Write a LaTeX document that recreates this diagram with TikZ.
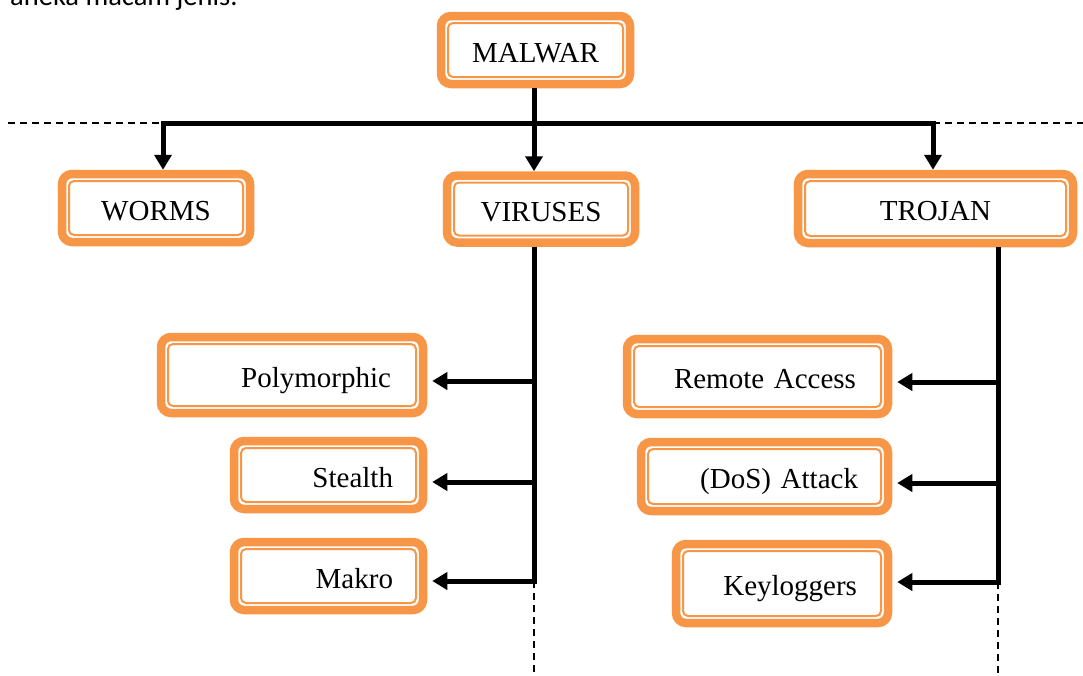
\documentclass[tikz,border=0pt]{standalone}
\usepackage{fontspec}
\setmainfont{Liberation Serif}
\newfontfamily\topfont{Carlito}
\usetikzlibrary{arrows.meta}
\definecolor{boxorange}{HTML}{F79646}
\begin{document}
\begin{tikzpicture}[x=1pt,y=-1pt,
  box/.style={draw=boxorange, line width=8.5pt, rounded corners=10pt, fill=white,
    inner ysep=0pt, font=\fontsize{29}{31}\selectfont, text height=26pt, text depth=2pt,
    path picture={\draw[boxorange, line width=2pt, rounded corners=5pt]
      ([shift={(7pt,-7pt)}]path picture bounding box.north west) rectangle
      ([shift={(-7pt,7pt)}]path picture bounding box.south east);}},
  rbox/.style={box, align=right},
  conn/.style={draw=black, line width=5pt},
  tip/.style={-{Triangle[width=17pt,length=15pt]}},
  arr/.style={conn, tip, shorten >=5pt},
  dsh/.style={draw=black, line width=1.8pt, dash pattern=on 7pt off 5pt}
]
\fill[white] (0,0) rectangle (1083,675);
\useasboundingbox (0,0) rectangle (1083,675);

\node[anchor=base west, inner sep=0pt, font=\topfont\fontsize{28.5}{30}\selectfont] (intro) at (10,5) {aneka macam jenis.};

\node[box, minimum width=189pt, minimum height=68pt] (malwar) at (535.5,50) {MALWAR};
\node[box, minimum width=188pt, minimum height=68pt] (worms) at (156,208) {WORMS};
\node[box, minimum width=188pt, minimum height=67pt] (viruses) at (541,209) {VIRUSES};
\node[box, minimum width=275pt, minimum height=69pt] (trojan) at (935.5,208.5) {TROJAN};

\node[rbox, minimum width=262pt, minimum height=76pt, inner xsep=32pt, text width=198pt] (poly) at (292,375) {Polymorphic};
\node[rbox, minimum width=189pt, minimum height=68pt, inner xsep=30pt, text width=129pt] (stealth) at (328.5,475) {Stealth};
\node[rbox, minimum width=189pt, minimum height=68pt, inner xsep=30pt, text width=129pt] (makro) at (328.5,576) {Makro};

\node[rbox, minimum width=261pt, minimum height=75pt, inner xsep=32pt, text width=197pt] (remote) at (757.5,376.5) {Remote Access};
\node[rbox, minimum width=247pt, minimum height=69pt, inner xsep=30pt, text width=187pt] (dos) at (764.5,476.5) {(DoS) Attack};
\node[rbox, minimum width=212pt, minimum height=79pt, inner xsep=31pt, text width=150pt] (keylog) at (782,583.5) {Keyloggers};

% bus
\coordinate (bw) at (163,123);
\coordinate (bv) at (534,123);
\coordinate (bt) at (933,123);
\coordinate (dl) at (8,123);
\coordinate (dr) at (1083,123);
\draw[dsh] (dl) -- (bw);
\draw[dsh] (bt) -- (dr);
\draw[conn, {Triangle[width=17pt,length=15pt]}-{Triangle[width=17pt,length=15pt]}, line join=miter]
  (worms.north -| bw) -- (bw) -- (bt) -- (trojan.north -| bt);
\draw[conn, tip] (malwar.south -| bv) -- (viruses.north -| bv);

% viruses trunk
\coordinate (vp) at (534,381);
\coordinate (vs) at (534,482);
\coordinate (vt) at (534,581);
\coordinate (vb) at (534,675);
\draw[arr, line join=miter] (viruses.south -| vt) -- (vt) -- (vt -| makro.east);
\draw[arr] (vp) -- (vp -| poly.east);
\draw[arr] (vs) -- (vs -| stealth.east);
\draw[dsh] (vt) -- (vb);

% trojan trunk
\coordinate (tp) at (998,382);
\coordinate (ts) at (998,483);
\coordinate (tk) at (998,582);
\coordinate (tb) at (998,675);
\draw[arr, line join=miter] (trojan.south -| tk) -- (tk) -- (tk -| keylog.east);
\draw[arr] (tp) -- (tp -| remote.east);
\draw[arr] (ts) -- (ts -| dos.east);
\draw[dsh] (tk) -- (tb);
\end{tikzpicture}
\end{document}
